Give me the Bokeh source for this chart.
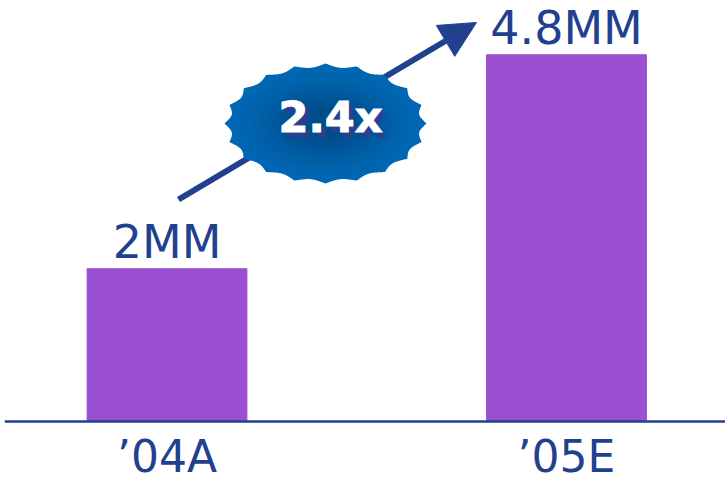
import numpy as np
from bokeh.plotting import figure
from bokeh.models import Range1d, Arrow, NormalHead, ColumnDataSource, Span
from bokeh.core.properties import value
from bokeh.embed import file_html
from bokeh.resources import INLINE

# ---- data ----
categories = ["\u201904A", "\u201905E"]
values = [2.0, 4.8]
value_labels = ["2MM", "4.8MM"]
growth_label = "2.4x"

BAR = "#9b4fd1"
NAVY = "#21418f"
FONT = "DejaVu Sans"

xs = list(range(len(categories)))

# pixels per data unit (vertical) and baseline position
YS = 76.4
p = figure(width=725, height=482, output_backend="svg", toolbar_location=None,
           x_range=Range1d(-0.4068, 1.398), y_range=Range1d(-61 / YS, 421 / YS),
           min_border_left=4, min_border_right=0, min_border_top=0, min_border_bottom=0)
p.outline_line_color = None
p.grid.visible = False
p.xaxis.visible = False
p.yaxis.visible = False

src = ColumnDataSource(dict(x=xs, top=values, lab=value_labels, cat=categories,
                            zero=[0] * len(xs)))
p.vbar(x="x", top="top", width=0.4, bottom=0, source=src, color=BAR)

# baseline
p.add_layout(Span(location=0, dimension="width", line_color=NAVY, line_width=2.5))

# value labels
p.text(x="x", y="top", text="lab", source=src, text_align="center",
       text_baseline="alphabetic", y_offset=-27, text_color=NAVY,
       text_font=value(FONT), text_font_size="46px")

# category labels
p.text(x="x", y="zero", text="cat", source=src, text_align="center",
       text_baseline="alphabetic", y_offset=35, text_color=NAVY,
       text_font=value(FONT), text_font_size="44px")

# pixel -> data helpers for decorations
def dx(px):
    return (px - 166.5) / 399.5

def dy(py):
    return (421 - py) / YS

# growth arrow (behind the burst)
p.add_layout(Arrow(x_start=dx(178), y_start=dy(199), x_end=dx(476), y_end=dy(22),
                   line_color=NAVY, line_width=6, level="underlay",
                   end=NormalHead(size=36, fill_color=NAVY, line_color=NAVY)))

# scalloped burst
cx, cy, rx, ry = 325, 123, 101, 60
th = np.linspace(0, 2 * np.pi, 1400)
n = 20
r = 1 - 0.06 * np.abs(np.sin(n * th / 2))
outer = np.array([0x00, 0x68, 0xb5])
inner = np.array([0x00, 0x48, 0x80])
px = cx + rx * r * np.cos(th)
py = cy + ry * r * np.sin(th)
p.patch([dx(v) for v in px], [dy(v) for v in py], color="#0067b4", line_width=0)
layers = 12
for k in range(1, layers):
    s = 0.92 - (k - 1) / layers * 0.8
    t = k / (layers - 1)
    col = outer + (inner - outer) * t
    hexc = "#%02x%02x%02x" % tuple(int(c) for c in col)
    px = cx + rx * s * np.cos(th)
    py = cy + ry * s * np.sin(th)
    p.patch([dx(v) for v in px], [dy(v) for v in py], color=hexc, line_width=0,
            alpha=0.3)

# label with shadow
p.text(x=[dx(330)], y=[dy(116)], text=[growth_label], x_offset=4, y_offset=5,
       text_align="center", text_baseline="middle", text_color="#2a3f92",
       text_outline_color="#2a3f92",
       text_font=value(FONT), text_font_style="bold", text_font_size="43px")
p.text(x=[dx(330)], y=[dy(116)], text=[growth_label],
       text_align="center", text_baseline="middle", text_color="white",
       text_outline_color="white",
       text_font=value(FONT), text_font_style="bold", text_font_size="43px")

open("out.html", "w").write(file_html(p, INLINE))
